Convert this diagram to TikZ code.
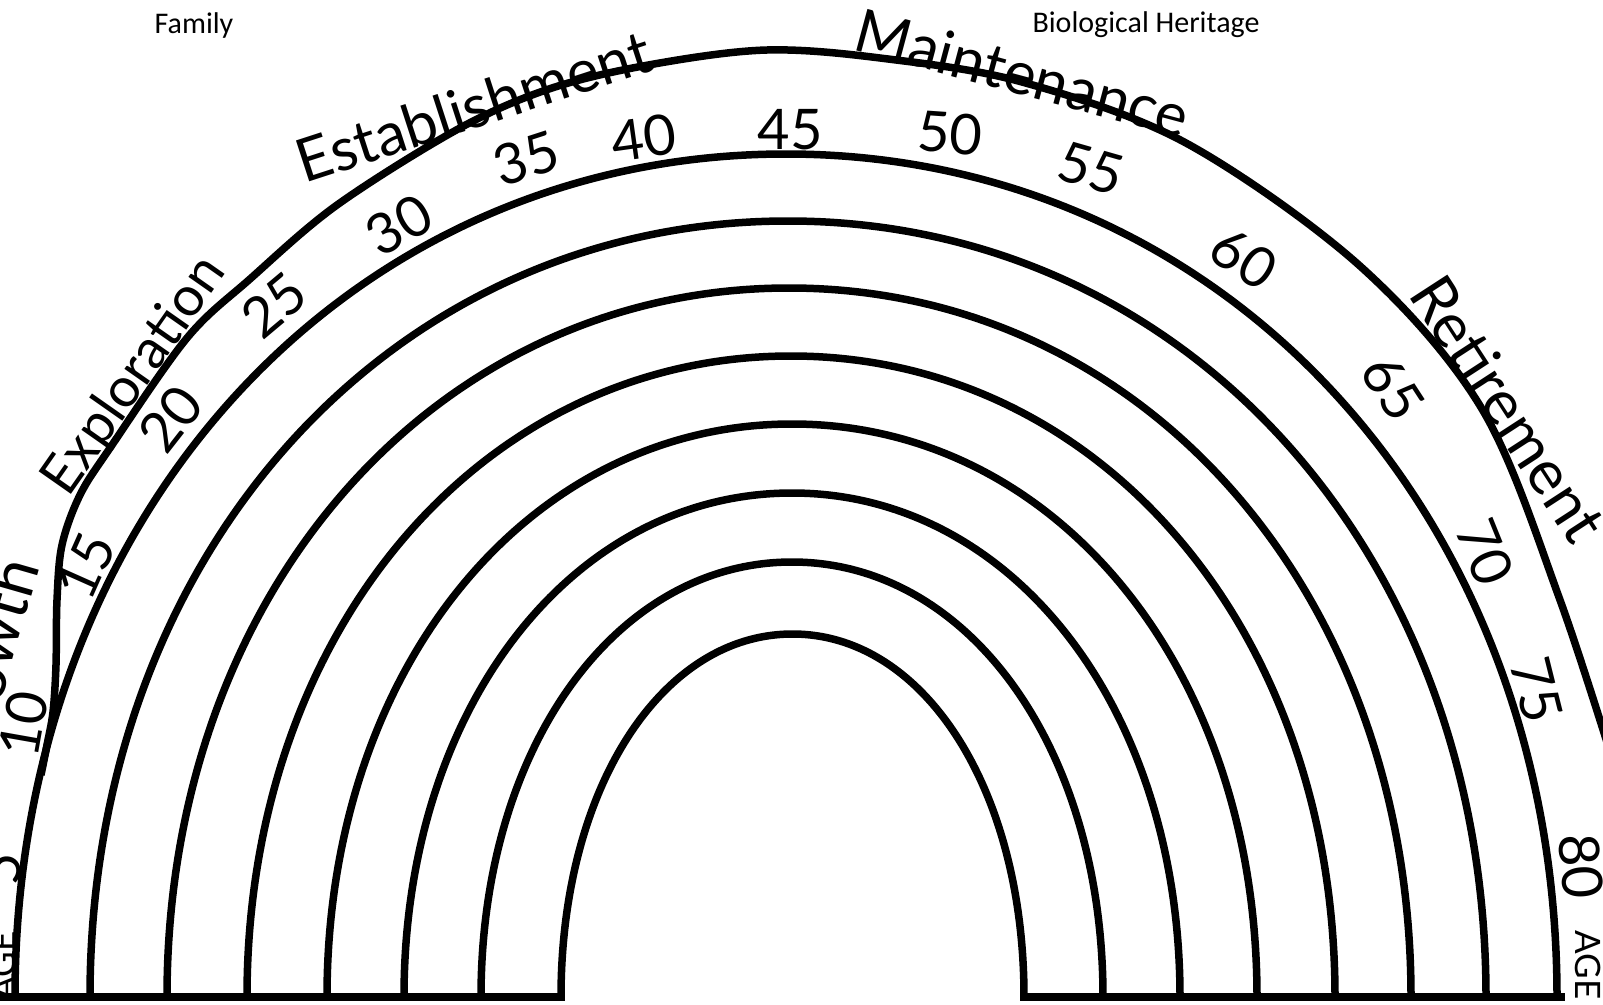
\documentclass[tikz,border=0pt]{standalone}
\usepackage{fontspec}
\setmainfont{Carlito}
\newfontfamily\handfont{Lato}
\newcommand\rainbowarc[3]{%
  \pgfmathsetmacro\myarcc{(#1+#2)/2}%
  \pgfmathsetmacro\myarca{(#2-#1)/2}%
  \pgfmathsetmacro\myarch{997-#3}%
  \draw[arcline] (#1,997) .. controls (#1,{997-0.57*\myarch}) and ({\myarcc-0.57*\myarca},#3) .. (\myarcc,#3)
     .. controls ({\myarcc+0.57*\myarca},#3) and (#2,{997-0.57*\myarch}) .. (#2,997);
}
\begin{document}
\begin{tikzpicture}[x=1pt,y=-1pt,
  arcline/.style={line width=7.5pt, line cap=butt, line join=round},
  groundline/.style={line width=8.5pt},
  hand/.style={font=\handfont\fontsize{56}{56}\selectfont, inner sep=0pt},
  handword/.style={font=\handfont\fontsize{60}{60}\selectfont, inner sep=0pt, anchor=base},
  handsmall/.style={font=\handfont\fontsize{35}{35}\selectfont, inner sep=0pt},
  printed/.style={font=\fontsize{30}{30}\selectfont, inner sep=0pt}]
\fill[white] (0,0) rectangle (1603,1004);
\useasboundingbox (0,0) rectangle (1603,1004);
\begin{scope}
\clip (0,0) rectangle (1603,1004);
% outermost hand-drawn arc (joins the next arc low on the left)
\draw[arcline] plot[smooth, tension=0.55] coordinates {(41,775) (47,745) (53,712) (56,665) (57,600) (62,545) (80,495) (110,448) (187,338) (250,279) (337,205) (460,128) (552,88) (654,64) (767,50) (880,58) (1022,82) (1186,143) (1360,266) (1482,409) (1560,600) (1625,800)};
% inner arcs
\rainbowarc{15}{1557}{154}
\rainbowarc{90}{1486}{221}
\rainbowarc{167}{1411}{288}
\rainbowarc{247}{1335}{356}
\rainbowarc{327}{1257}{424}
\rainbowarc{404}{1180}{493}
\rainbowarc{481}{1103}{562}
\rainbowarc{561}{1024}{634}
% ground lines
\draw[groundline] (0,997) -- (565,997);
\draw[groundline] (1020,997) -- (1565,997);

% printed headings
\node[printed] (family) at (194,26) {Family};
\node[printed] (bio) at (1146,25) {Biological Heritage};

% stage words
\node[handword, anchor=base east, font=\handfont\fontsize{64}{64}\selectfont, rotate=74] (growth) at (40,566) {Growth};
\node[handword, font=\handfont\fontsize{55}{55}\selectfont, rotate=55] (explo) at (148,385) {Exploration};
\node[handword, rotate=18] (estab) at (480,127) {Establishment};
\node[handword, rotate=-15] (maint) at (1017,94) {Maintenance};
\node[handword, font=\handfont\fontsize{62}{62}\selectfont, rotate=-57] (retire) at (1490,421) {Retirement};

% ages
\node[handsmall, rotate=90, anchor=south] (ageL) at (16,966) {AGE};
\node[hand, rotate=86, anchor=south] (a5) at (21,870) {5};
\node[hand, rotate=80, anchor=south] (a10) at (44,728) {10};
\node[hand, rotate=66] (a15) at (86,566) {15};
\node[hand, rotate=52] (a20) at (171,419) {20};
\node[hand, rotate=40] (a25) at (274,305) {25};
\node[hand, rotate=30] (a30) at (399,225) {30};
\node[hand, rotate=18] (a35) at (526,158) {35};
\node[hand, rotate=8] (a40) at (644,138) {40};
\node[hand] (a45) at (790,130) {45};
\node[hand, rotate=-4] (a50) at (950,133) {50};
\node[hand, rotate=-16] (a55) at (1091,168) {55};
\node[hand, rotate=-32] (a60) at (1244,258) {60};
\node[hand, rotate=-57] (a65) at (1393,388) {65};
\node[hand, rotate=-68] (a70) at (1485,552) {70};
\node[hand, rotate=-76] (a75) at (1537,690) {75};
\node[hand, rotate=-86] (a80) at (1581,866) {80};
\node[handsmall, rotate=-90] (ageR) at (1588,965) {AGE};
\end{scope}
\end{tikzpicture}
\end{document}
